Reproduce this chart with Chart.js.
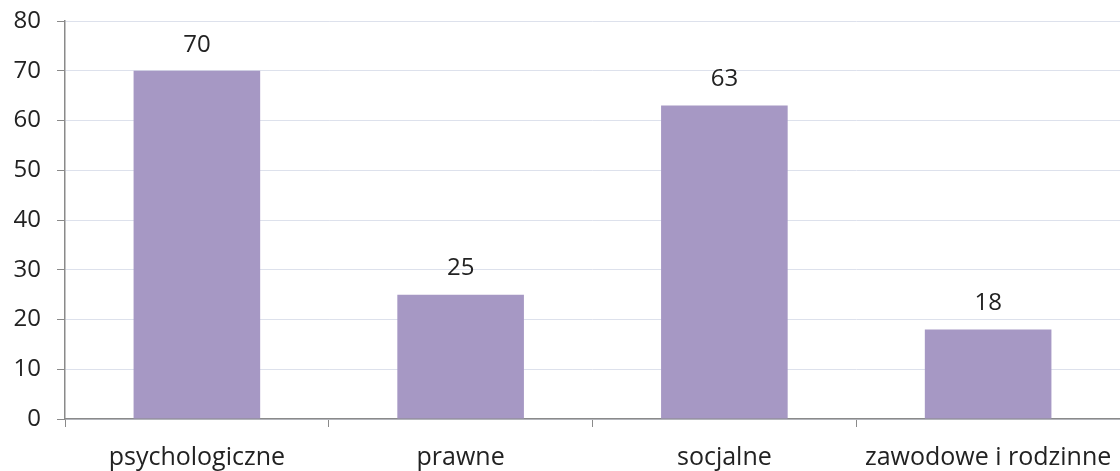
<!DOCTYPE html>
<html>
<head>
<meta charset="utf-8">
<script src="https://cdn.jsdelivr.net/npm/chart.js@4"></script>
<style>
  html, body { margin: 0; padding: 0; background: #fff; }
  #wrap { width: 1120px; height: 471px; }
</style>
</head>
<body>
<div id="wrap"><canvas id="chart"></canvas></div>
<script>
const kategorie = ["psychologiczne", "prawne", "socjalne", "zawodowe i rodzinne"];
const wartosci = [70, 25, 63, 18];
const yMin = 0;
const yMax = 80;
const yKrok = 10;

const czcionka = "'Open Sans', 'Liberation Sans', sans-serif";

// etykiety z wartościami nad słupkami
const etykietyWartosci = {
  id: "etykietyWartosci",
  afterDatasetsDraw(chart) {
    const ctx = chart.ctx;
    const meta = chart.getDatasetMeta(0);
    ctx.save();
    ctx.fillStyle = "#222";
    ctx.font = "24px " + czcionka;
    ctx.textAlign = "center";
    ctx.textBaseline = "middle";
    meta.data.forEach((bar, i) => {
      ctx.fillText(wartosci[i], bar.x, bar.y - 26);
    });
    ctx.restore();
  }
};

const ctx = document.getElementById("chart").getContext("2d");
new Chart(ctx, {
  type: "bar",
  data: {
    labels: kategorie,
    datasets: [{
      data: wartosci,
      backgroundColor: "#a698c4",
      categoryPercentage: 1,
      barPercentage: 0.48
    }]
  },
  options: {
    responsive: true,
    maintainAspectRatio: false,
    animation: false,
    layout: { padding: { top: 21, right: 0, left: 0, bottom: 0 } },
    plugins: {
      legend: { display: false },
      tooltip: { enabled: false }
    },
    scales: {
      x: {
        offset: true,
        afterFit(axis) {
          axis.height = 52;
          axis.paddingLeft = 0;
          axis.paddingRight = 0;
        },
        grid: {
          offset: true,
          drawOnChartArea: false,
          tickLength: 8,
          tickColor: "#8a8a8a"
        },
        border: { color: "#8a8a8a", width: 1.5 },
        ticks: {
          color: "#222",
          font: { family: czcionka, size: 25 },
          padding: 16,
          maxRotation: 0
        }
      },
      y: {
        min: yMin,
        max: yMax,
        afterFit(axis) {
          axis.width = 65;
          axis.paddingTop = 0;
          axis.paddingBottom = 0;
        },
        grid: {
          color: "#dde1ec",
          tickLength: 8,
          tickColor: "#8a8a8a"
        },
        border: { color: "#8a8a8a", width: 1.5 },
        ticks: {
          stepSize: yKrok,
          color: "#222",
          font: { family: czcionka, size: 24 },
          padding: 16
        }
      }
    }
  },
  plugins: [etykietyWartosci]
});
</script>
</body>
</html>
